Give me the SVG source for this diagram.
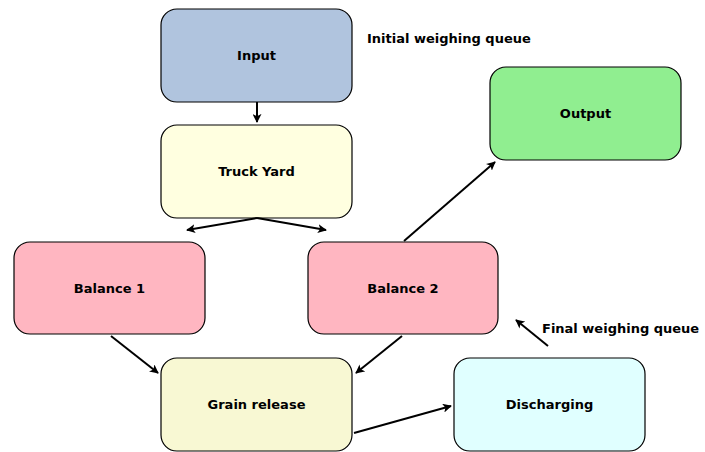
<svg xmlns="http://www.w3.org/2000/svg" width="705" height="452" viewBox="0 0 705 452">
<style>
.n{stroke:#000;stroke-width:1.2}
.t{font-family:"DejaVu Sans",sans-serif;font-weight:bold;font-size:13px;text-anchor:middle;fill:#000}
.l{font-family:"DejaVu Sans",sans-serif;font-weight:bold;font-size:13px;fill:#000}
.e{stroke:#000;stroke-width:2;fill:none;marker-end:url(#a)}
</style>
<defs>
<marker id="a" viewBox="0 0 10 10" refX="9" refY="5" markerWidth="4.5" markerHeight="4.5" orient="auto" markerUnits="strokeWidth">
<path d="M0,0 L10,5 L0,10 L2.5,5 Z" fill="#000"/>
</marker>
</defs>
<rect width="705" height="452" fill="#fff"/>
<g id="input"><rect class="n" x="161" y="9" width="191" height="93" rx="16" fill="#B0C4DE"/><text class="t" x="256.5" y="60">Input</text></g>
<g id="truckyard"><rect class="n" x="161" y="125" width="191" height="93" rx="16" fill="#FFFFE0"/><text class="t" x="256.5" y="176">Truck Yard</text></g>
<g id="output"><rect class="n" x="490" y="67" width="191" height="93" rx="16" fill="#90EE90"/><text class="t" x="585.5" y="118">Output</text></g>
<g id="balance1"><rect class="n" x="14" y="242" width="191" height="92" rx="16" fill="#FFB6C1"/><text class="t" x="109.5" y="293">Balance 1</text></g>
<g id="balance2"><rect class="n" x="308" y="242" width="190" height="92" rx="16" fill="#FFB6C1"/><text class="t" x="403" y="293">Balance 2</text></g>
<g id="grainrelease"><rect class="n" x="161" y="358" width="191" height="93" rx="16" fill="#F8F8D3"/><text class="t" x="256.5" y="409">Grain release</text></g>
<g id="discharging"><rect class="n" x="454" y="358" width="191" height="93" rx="16" fill="#E0FFFF"/><text class="t" x="549.5" y="409">Discharging</text></g>
<g id="labels">
<text class="l" x="367" y="43">Initial weighing queue</text>
<text class="l" x="542" y="333">Final weighing queue</text>
</g>
<g id="connectors">
<line class="e" x1="257" y1="102" x2="257" y2="122"/>
<line class="e" x1="257" y1="218" x2="187" y2="230"/>
<line class="e" x1="257" y1="218" x2="326" y2="230"/>
<line class="e" x1="404" y1="241" x2="495" y2="162"/>
<line class="e" x1="111" y1="336" x2="158" y2="373"/>
<line class="e" x1="402" y1="336" x2="356" y2="373"/>
<line class="e" x1="354" y1="433" x2="451" y2="406"/>
<line class="e" x1="548" y1="346" x2="516" y2="320"/>
</g>
</svg>
